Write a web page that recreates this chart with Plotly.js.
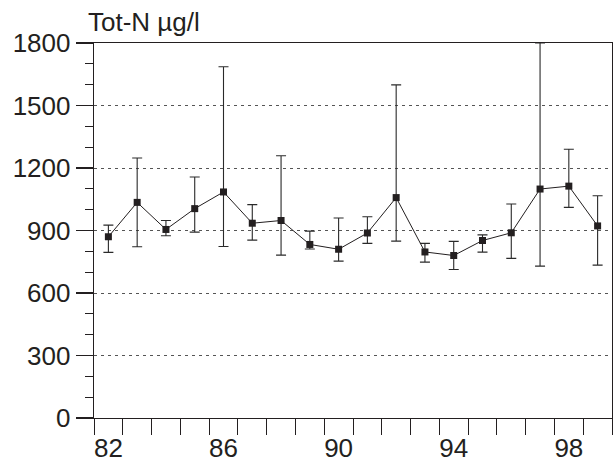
<!DOCTYPE html>
<html>
<head>
<meta charset="utf-8">
<script src="https://cdn.plot.ly/plotly-3.0.1.min.js"></script>
<style>html,body{margin:0;padding:0;background:#fff;}#chart{width:613px;height:463px;}</style>
</head>
<body>
<div id="chart"></div>
<script>
const years = [82,83,84,85,86,87,88,89,90,91,92,93,94,95,96,97,98,99];
const meanN = [870,1035,905,1005,1085,935,948,833,810,888,1058,797,780,852,889,1099,1113,922];
const upperN = [926,1248,948,1157,1686,1024,1259,897,960,966,1599,838,848,879,1027,1800,1290,1067];
const lowerN = [795,822,875,892,823,854,782,811,753,838,849,748,713,796,766,729,1011,734];
const yTickVals = [0,300,600,900,1200,1500,1800];
const xLabelVals = [82,86,90,94,98];
const xBoundaryTicks = [81.5,82.5,83.5,84.5,85.5,86.5,87.5,88.5,89.5,90.5,91.5,92.5,93.5,94.5,95.5,96.5,97.5,98.5,99.5];

const plus = upperN.map((u,i)=>u-meanN[i]);
const minus = meanN.map((m,i)=>m-lowerN[i]);

const font = {family:'"Liberation Sans", Arial, Helvetica, sans-serif', size:26, color:'#231f20'};

const trace = {
  x: years, y: meanN, type:'scatter', mode:'lines+markers',
  line:{color:'#231f20', width:1},
  marker:{symbol:'square', size:7, color:'#231f20'},
  error_y:{type:'data', symmetric:false, array:plus, arrayminus:minus, color:'#2a2a2a', thickness:1.1, width:5},
  cliponaxis:false
};

const layout = {
  width:613, height:463,
  margin:{l:94, r:1, t:43, b:45},
  paper_bgcolor:'#fff', plot_bgcolor:'#fff',
  font: font,
  showlegend:false,
  title:{text:'Tot-N µg/l', x:88/613, xanchor:'left', xref:'container', y:1-22/463, yanchor:'middle', yref:'container', font:font},
  xaxis:{
    range:[81.5,99.5], tickmode:'array', tickvals:xLabelVals, ticktext:xLabelVals.map(String),
    ticks:'outside', ticklen:6, tickcolor:'rgba(0,0,0,0)', tickwidth:1,
    showgrid:false, zeroline:false, showline:true, linecolor:'#231f20', linewidth:1.3, mirror:true,
    minor:{tickmode:'array', tickvals:xBoundaryTicks, ticks:'outside', ticklen:16, tickcolor:'#231f20', tickwidth:1, showgrid:false},
    tickfont:font, fixedrange:true
  },
  yaxis:{
    range:[0,1800], tickmode:'array', tickvals:yTickVals,
    ticks:'outside', ticklen:17, tickcolor:'#231f20', tickwidth:1.1,
    showgrid:true, gridcolor:'#555', griddash:'3px,4px', gridwidth:1,
    zeroline:false, showline:true, linecolor:'#231f20', linewidth:1.3, mirror:true,
    minor:{dtick:100, ticks:'outside', ticklen:8, tickcolor:'#231f20', tickwidth:1, showgrid:false},
    tickfont:font, fixedrange:true
  }
};

Plotly.newPlot('chart',[trace],layout,{staticPlot:true, displayModeBar:false});
</script>
</body>
</html>
